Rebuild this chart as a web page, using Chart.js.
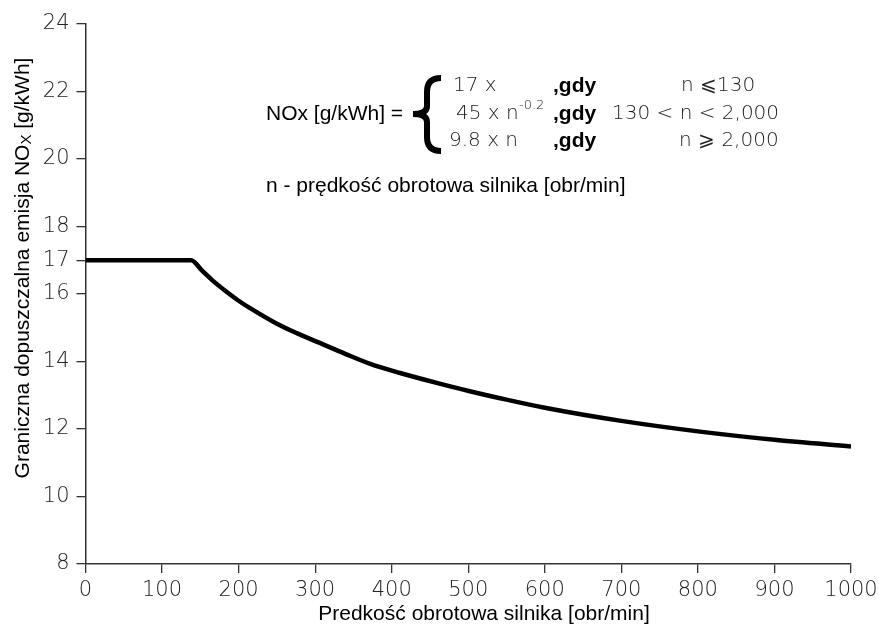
<!DOCTYPE html>
<html>
<head>
<meta charset="utf-8">
<script src="https://cdn.jsdelivr.net/npm/chart.js@4"></script>
<style>
  html, body { margin: 0; padding: 0; background: #fff; }
</style>
</head>
<body>
<canvas id="chart" width="879" height="629"></canvas>
<script>
// --- data ---
const speed = [0, 138, 152, 167, 185, 200, 215, 250, 276, 306, 340, 372, 411, 460, 502, 550, 600, 700, 800, 900, 1000];
const noxLimit = [17, 17, 16.70, 16.38, 16.05, 15.80, 15.58, 15.12, 14.84, 14.55, 14.22, 13.93, 13.66, 13.36, 13.12, 12.87, 12.63, 12.24, 11.93, 11.68, 11.48];
const yTickValues = [8, 10, 12, 14, 16, 17, 18, 20, 22, 24];

const xTitle = 'Predkość obrotowa silnika [obr/min]';
const yTitleMain = 'Graniczna dopuszczalna emisja NO';
const yTitleSub = 'X';
const yTitleEnd = ' [g/kWh]';

const tickFont = { family: "'DejaVu Sans'", size: 21, weight: '200' };
const textFont = "'Liberation Sans', Arial, sans-serif";

// --- axis titles (y has a subscript) + formula block ---
const annotations = {
    id: 'annotations',
    afterDraw(chart) {
        const ctx = chart.ctx;
        ctx.save();
        ctx.fillStyle = '#000';
        ctx.textBaseline = 'middle';
        ctx.textAlign = 'center';
        ctx.font = '21px ' + textFont;
        ctx.fillText(xTitle, 484, 614);

        // y axis title, rotated
        ctx.translate(23, 268);
        ctx.rotate(-Math.PI / 2);
        ctx.textAlign = 'left';
        const subFont = '15px ' + textFont;
        const w1 = ctx.measureText(yTitleMain).width;
        const w3 = ctx.measureText(yTitleEnd).width;
        ctx.font = subFont;
        const w2 = ctx.measureText(yTitleSub).width;
        let x = -(w1 + w2 + w3) / 2;
        ctx.font = '21px ' + textFont;
        ctx.fillText(yTitleMain, x, 0);
        x += w1;
        ctx.font = subFont;
        ctx.fillText(yTitleSub, x, 4);
        x += w2;
        ctx.font = '21px ' + textFont;
        ctx.fillText(yTitleEnd, x, 0);
        ctx.restore();

        ctx.save();
        ctx.textBaseline = 'middle';
        ctx.textAlign = 'left';
        const r1 = 86, r2 = 114, r3 = 141;
        const light = "200 20px 'DejaVu Sans'";

        ctx.fillStyle = '#000';
        ctx.font = '21px ' + textFont;
        ctx.fillText('NOx [g/kWh] =', 266, r2);

        // curly brace
        ctx.strokeStyle = '#000';
        ctx.lineWidth = 6;
        ctx.beginPath();
        ctx.moveTo(441, r1 - 8);
        ctx.quadraticCurveTo(427, r1 - 8, 427, r1 + 6);
        ctx.lineTo(427, r2 - 8);
        ctx.quadraticCurveTo(427, r2, 413, r2);
        ctx.quadraticCurveTo(427, r2, 427, r2 + 8);
        ctx.lineTo(427, r3 - 4);
        ctx.quadraticCurveTo(427, r3 + 10, 441, r3 + 10);
        ctx.stroke();

        ctx.fillStyle = '#222';
        ctx.font = light;
        ctx.fillText('17 x', 453, r1);
        ctx.fillText('45 x n', 456, r2);
        ctx.fillText('9.8 x n', 449, r3);
        ctx.fillText('n \u2A7D130', 681, r1);
        ctx.fillText('130 < n < 2,000', 612, r2);
        ctx.fillText('n \u2A7E 2,000', 679, r3);
        ctx.font = "200 13px 'DejaVu Sans'";
        ctx.fillText('-0.2', 519, r2 - 8);

        ctx.fillStyle = '#000';
        ctx.font = 'bold 21px ' + textFont;
        [r1, r2, r3].forEach(r => ctx.fillText(',gdy', 553, r));

        ctx.font = '21px ' + textFont;
        ctx.fillText('n - prędkość obrotowa silnika [obr/min]', 266, 186);
        ctx.restore();
    }
};

const ctx = document.getElementById('chart').getContext('2d');
new Chart(ctx, {
    type: 'line',
    data: {
        datasets: [{
            data: speed.map((s, i) => ({ x: s, y: noxLimit[i] })),
            borderColor: '#000',
            borderWidth: 4.5,
            pointRadius: 0,
            fill: false,
            cubicInterpolationMode: 'monotone'
        }]
    },
    options: {
        responsive: false,
        animation: false,
        devicePixelRatio: 1,
        layout: { padding: { left: 0, right: 28, top: 24, bottom: 0 } },
        plugins: { legend: { display: false }, tooltip: { enabled: false } },
        scales: {
            x: {
                type: 'linear',
                min: 0,
                max: 1000,
                grid: { drawOnChartArea: false, tickLength: 9, color: '#333', lineWidth: 1.3 },
                border: { color: '#333', width: 1.5 },
                ticks: {
                    stepSize: 100, color: '#222', font: tickFont, padding: 5,
                    maxRotation: 0, autoSkip: false,
                    callback: v => String(v)
                },
                afterFit: s => {
                    s.height = 65;
                    s.paddingLeft = 0;
                    s.paddingRight = 0;
                }
            },
            y: {
                min: 8,
                max: 24,
                grid: { drawOnChartArea: false, tickLength: 9, color: '#333', lineWidth: 1.3 },
                border: { color: '#333', width: 1.5 },
                ticks: { color: '#222', font: tickFont, padding: 7, autoSkip: false },
                afterBuildTicks: s => { s.ticks = yTickValues.map(v => ({ value: v })); },
                afterFit: s => { s.width = 85.5; }
            }
        }
    },
    plugins: [annotations]
});
</script>
</body>
</html>
